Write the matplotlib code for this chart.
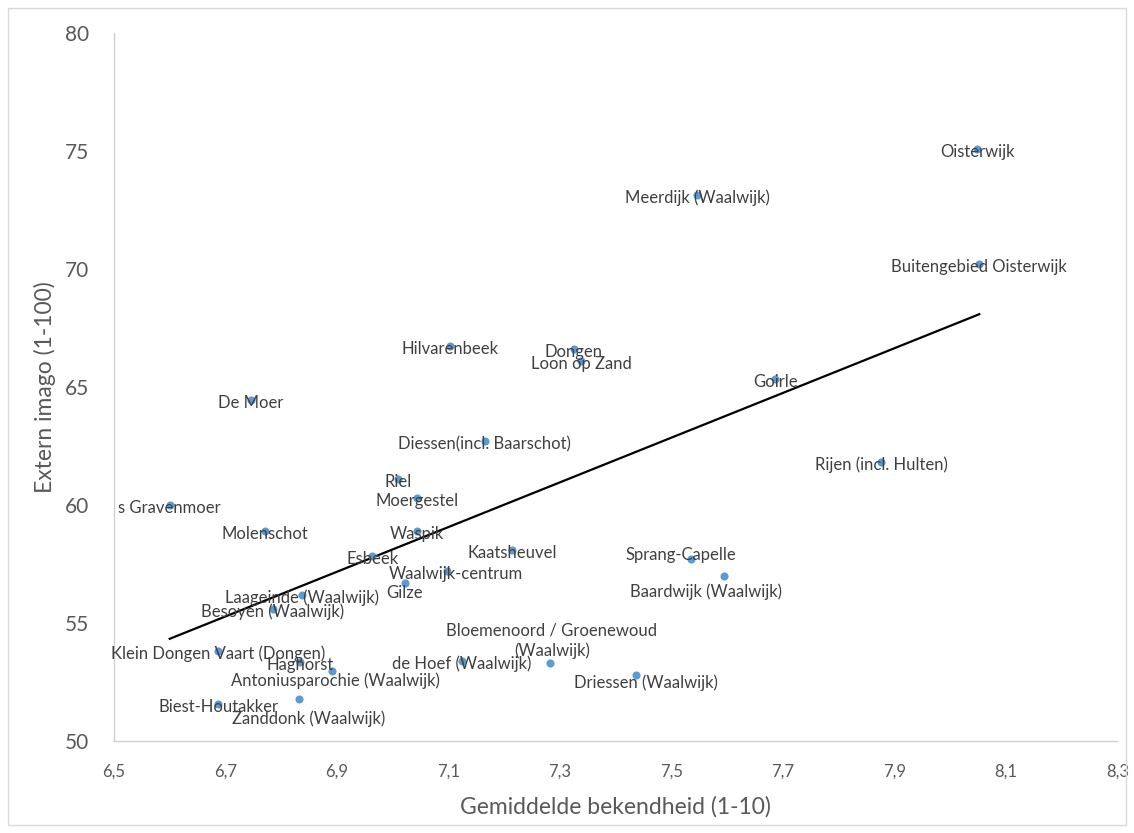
import numpy as np
import matplotlib
matplotlib.use("Agg")
import matplotlib.pyplot as plt
from matplotlib.patches import Rectangle

plt.rcParams['font.family'] = ['Lato', 'DejaVu Sans']

# gebieden, gemiddelde bekendheid (1-10) en extern imago (1-100)
namen = [
    "Oisterwijk", "Meerdijk (Waalwijk)", "Buitengebied Oisterwijk", "Hilvarenbeek",
    "Dongen", "Loon op Zand", "Goirle", "De Moer", "Diessen(incl. Baarschot)",
    "Rijen (incl. Hulten)", "Riel", "Moergestel", "s Gravenmoer", "Molenschot",
    "Waspik", "Kaatsheuvel", "Esbeek", "Sprang-Capelle", "Waalwijk-centrum",
    "Baardwijk (Waalwijk)", "Gilze", "Laageinde (Waalwijk)", "Besoyen (Waalwijk)",
    "Klein Dongen Vaart (Dongen)", "Haghorst", "de Hoef (Waalwijk)",
    "Bloemenoord / Groenewoud\n(Waalwijk)", "Antoniusparochie (Waalwijk)",
    "Driessen (Waalwijk)", "Zanddonk (Waalwijk)", "Biest-Houtakker",
]
bekendheid = [
    8.048, 7.546, 8.052, 7.103, 7.325, 7.338, 7.686, 6.746, 7.165,
    7.876, 7.009, 7.043, 6.600, 6.771, 7.043, 7.214, 6.963, 7.535, 7.097,
    7.594, 7.022, 6.837, 6.785, 6.687, 6.834, 7.124, 7.282, 6.891,
    7.436, 6.832, 6.687,
]
imago = [
    75.08, 73.14, 70.21, 66.74, 66.61, 66.10, 65.34, 64.45, 62.71,
    61.82, 61.10, 60.30, 60.00, 58.90, 58.90, 58.09, 57.84, 57.71, 57.20,
    56.99, 56.69, 56.19, 55.59, 53.81, 53.35, 53.39, 53.31, 52.97,
    52.80, 51.78, 51.57,
]
x_ticks = [6.5, 6.7, 6.9, 7.1, 7.3, 7.5, 7.7, 7.9, 8.1, 8.3]
y_ticks = [50, 55, 60, 65, 70, 75, 80]

# verschuiving van sommige labels t.o.v. het punt (pixels)
label_shift = {
    "Sprang-Capelle": (-10, 7),
    "Waalwijk-centrum": (9, 0),
    "Baardwijk (Waalwijk)": (-18, -13),
    "Gilze": (0, -7),
    "Antoniusparochie (Waalwijk)": (3, -7),
    "Driessen (Waalwijk)": (10, -5),
    "Zanddonk (Waalwijk)": (10, -17),
    "Bloemenoord / Groenewoud\n(Waalwijk)": (2, 25),
}

fig = plt.figure(figsize=(11.34, 8.33), dpi=100)
fig.patches.append(Rectangle((8 / 1134, 8 / 833), 1118 / 1134, 817 / 833,
                             transform=fig.transFigure, fill=False,
                             edgecolor='#d9d9d9', linewidth=1))
ax = fig.add_axes([114 / 1134, 1 - 741 / 833, (1117.5 - 114) / 1134, (741 - 33) / 833])

x = np.array(bekendheid)
y = np.array(imago)
ax.scatter(x, y, s=34, color='#5b9bd5', zorder=3, linewidths=0)

# lineaire trendlijn
a, b = np.polyfit(x, y, 1)
xt = np.array([x.min(), x.max()])
ax.plot(xt, a * xt + b, color='black', linewidth=1.6, zorder=2)

for naam, xi, yi in zip(namen, x, y):
    dx, dy = label_shift.get(naam, (0, 0))
    ax.annotate(naam, (xi, yi), xytext=(dx, dy - 3), textcoords='offset pixels',
                ha='center', va='center', fontsize=12, color='#404040',
                linespacing=1.3, zorder=4)

ax.set_xlim(6.5, 8.3)
ax.set_ylim(50, 80)
ax.set_xticks(x_ticks)
ax.set_xticklabels([f"{t:.1f}".replace('.', ',') for t in x_ticks])
ax.set_yticks(y_ticks)
ax.tick_params(axis='x', length=0, pad=16, labelsize=12, labelcolor='#595959')
ax.tick_params(axis='y', length=0, pad=18, labelsize=15, labelcolor='#595959')
for s in ['top', 'right']:
    ax.spines[s].set_visible(False)
for s in ['left', 'bottom']:
    ax.spines[s].set_color('#d0d0d0')
    ax.spines[s].set_linewidth(1)

ax.set_xlabel("Gemiddelde bekendheid (1-10)", fontsize=16.5, color='#595959', labelpad=12)
ax.set_ylabel("Extern imago (1-100)", fontsize=16.5, color='#595959', labelpad=6)

fig.savefig("out.png", dpi=100)
